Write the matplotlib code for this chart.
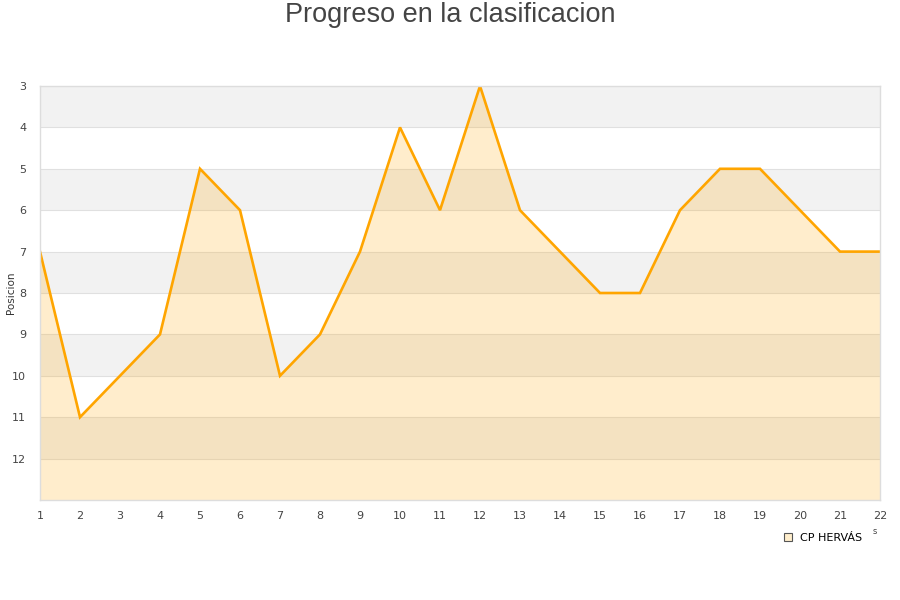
import matplotlib
matplotlib.use("Agg")
import matplotlib.pyplot as plt
from matplotlib.lines import Line2D

jornadas = list(range(1, 23))
posiciones = [7, 11, 10, 9, 5, 6, 10, 9, 7, 4, 6, 3, 6, 7, 8, 8, 6, 5, 5, 6, 7, 7]
y_ticks = [3, 4, 5, 6, 7, 8, 9, 10, 11, 12]
team = "CP HERVÁS"
title = "Progreso en la clasificacion"
ylabel = "Posicion"

fig = plt.figure(figsize=(9, 6), dpi=100)
ax = fig.add_axes([40/900, 1 - 500/600, 840/900, 414/600])

ymin, ymax = 3, 13
# alternating bands
for i, y0 in enumerate(range(ymin, ymax)):
    color = "#f2f2f2" if i % 2 == 0 else "#ffffff"
    ax.axhspan(y0, y0 + 1, color=color, zorder=0, lw=0)
    ax.axhline(y0, color="#e0e0e0", lw=0.8, zorder=0.5)

ax.fill_between(jornadas, posiciones, ymax, color="#ffa500", alpha=0.2, lw=0, zorder=1)
ax.plot(jornadas, posiciones, color="#ffa500", lw=1.9, zorder=2, solid_joinstyle="miter")

ax.set_xlim(1, 22)
ax.set_ylim(ymax, ymin)
ax.set_xticks(jornadas)
ax.set_yticks(y_ticks)
ax.tick_params(axis="both", length=0, labelsize=8, colors="#444444", pad=8)
ax.tick_params(axis="y", pad=10)
for s in ax.spines.values():
    s.set_color("#dddddd")
    s.set_linewidth(1)

ax.set_ylabel(ylabel, fontsize=7.5, color="#333333")
ax.yaxis.set_label_coords(-24/840, 0.5)

fig.text(0.5, 1 - 15/600, title, ha="center", va="center", fontsize=19.5,
         color="#444444", family=["Liberation Sans", "DejaVu Sans"])

handle = Line2D([], [], marker="s", ls="none", markersize=6, markerfacecolor="#ffeecc",
                markeredgecolor="#555555", markeredgewidth=0.8)
fig.legend([handle], [team], loc="center", bbox_to_anchor=(822/900, 1 - 538/600),
           frameon=False, fontsize=8, handletextpad=0.6, handlelength=1.0)
fig.text(875/900, 1 - 532/600, "s", fontsize=6, color="#444444", ha="center", va="center")

fig.savefig("out.png", dpi=100)
